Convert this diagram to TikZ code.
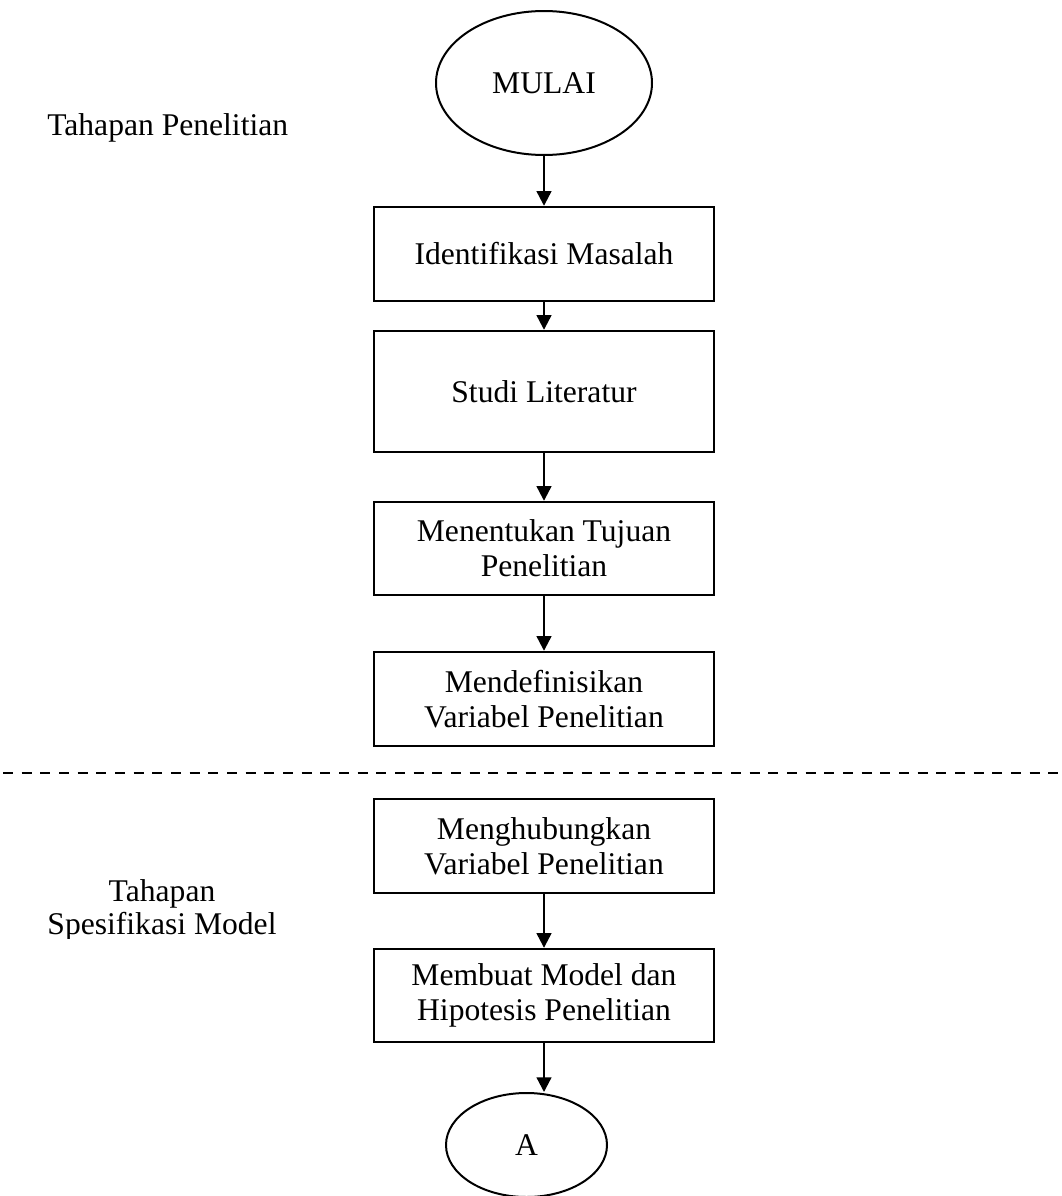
\documentclass[tikz,border=0pt]{standalone}
\usepackage{fontspec}
\setmainfont{Liberation Serif}
\usetikzlibrary{arrows.meta,shapes.geometric}
\begin{document}
\begin{tikzpicture}[x=0.75pt,y=-0.75pt,
  every node/.style={font=\fontsize{23.7pt}{26.25pt}\selectfont},
  stepbox/.style={draw,line width=1.8pt,rectangle,inner sep=0pt,
    minimum width=255pt,align=center},
  terminal/.style={draw,line width=1.5pt,ellipse,inner sep=0pt},
  flow/.style={line width=1.7pt,-{Triangle[length=11pt,width=11pt]}},
  stagelabel/.style={align=center,inner sep=0pt}]
\useasboundingbox (0,0) rectangle (1061,1196);

% start terminal and process steps
\node[terminal,minimum width=162pt,minimum height=108pt] (mulai) at (544,83) {MULAI};
\node[stepbox,minimum height=70.5pt] (s1) at (544,254) {Identifikasi Masalah};
\node[stepbox,minimum height=90.75pt] (s2) at (544,391.5) {Studi Literatur};
\node[stepbox,minimum height=69.75pt] (s3) at (544,548.5) {Menentukan Tujuan\\Penelitian};
\node[stepbox,minimum height=70.5pt] (s4) at (544,699) {Mendefinisikan\\Variabel Penelitian};
\node[stepbox,minimum height=70.5pt] (s5) at (544,846) {Menghubungkan\\Variabel Penelitian};
\node[stepbox,minimum height=69.75pt] (s6) at (544,995.5) {Membuat Model dan\\Hipotesis Penelitian};
\node[terminal,minimum width=120.75pt,minimum height=78pt] (a) at (526.5,1145) {A};

% stage labels
\node[anchor=base west,inner sep=0pt] (stage1) at (47,135) {Tahapan Penelitian};
\begin{scope}
  \clip (0,860) rectangle (370,938);
  \node[stagelabel,anchor=base,
    font=\fontsize{23.7pt}{24.75pt}\selectfont] (stage2) at (162,934)
    {Tahapan\\Spesifikasi Model};
\end{scope}

% separator between the two stages
\coordinate (sepL) at (3,773);
\coordinate (sepR) at (1061,773);
\draw[line width=2pt,dash pattern=on 7.5pt off 6.5pt] (sepL) -- (sepR);

% connectors
\draw[flow] (mulai) -- (s1);
\draw[flow] (s1) -- (s2);
\draw[flow] (s2) -- (s3);
\draw[flow] (s3) -- (s4);
\draw[flow] (s5) -- (s6);
\draw[flow] (s6.south) -- (s6.south |- a.north);
\end{tikzpicture}
\end{document}
